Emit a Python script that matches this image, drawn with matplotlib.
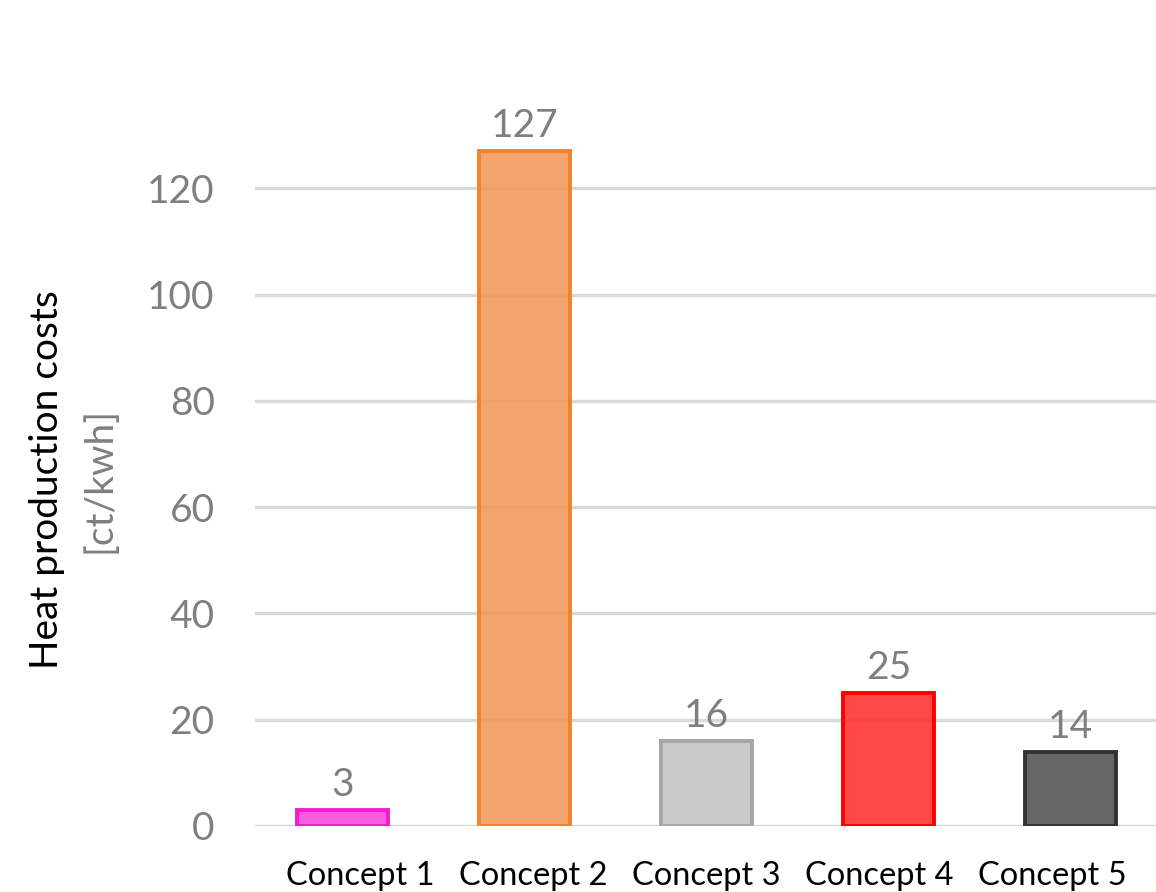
import matplotlib
matplotlib.use("Agg")
import matplotlib.pyplot as plt
from matplotlib.colors import to_rgba
from matplotlib.transforms import ScaledTranslation

categories = ["Concept 1", "Concept 2", "Concept 3", "Concept 4", "Concept 5"]
costs = [3, 127, 16, 25, 14]
edge_colors = ["#F21BD0", "#F4812C", "#A6A6A6", "#FF0000", "#333333"]
fill_colors = ["#F83FD5", "#F39554", "#C2C2C2", "#FF2828", "#4B4B4B"]
y_ticks = [0, 20, 40, 60, 80, 100, 120]

plt.rcParams['font.family'] = ['Lato', 'DejaVu Sans']

fig = plt.figure(figsize=(11.56, 8.92), dpi=100)
ax = fig.add_axes([0.2206, 0.074, 0.7794, 0.834])

x = list(range(len(categories)))
ax.set_axisbelow(True)
ax.yaxis.grid(True, color="#D9D9D9", linewidth=2.4)
bars = ax.bar(x, costs, width=0.5,
              color=[to_rgba(c, 0.85) for c in fill_colors],
              edgecolor=edge_colors, linewidth=2.8, zorder=3)

for xi, v in zip(x, costs):
    ax.annotate(str(v), (xi, v), xytext=(0, 5), textcoords="offset points",
                ha="center", va="bottom", fontsize=28, color="#7F7F7F")

ax.set_xlim(-0.48, 4.47)
ax.set_ylim(0, 140)
ax.set_yticks(y_ticks)
ax.set_xticks(x)
ax.set_xticklabels(categories, fontsize=23.5, color="#000000")
ax.tick_params(axis="y", labelsize=28, labelcolor="#7F7F7F", length=0, pad=29)
ax.tick_params(axis="x", length=0, pad=25)
for s in ax.spines.values():
    s.set_visible(False)

# category labels sit slightly closer together than the bars
n = len(categories)
for i, lbl in enumerate(ax.get_xticklabels()):
    shift = (18 - 36 * i / (n - 1)) / 100
    lbl.set_transform(lbl.get_transform() + ScaledTranslation(shift, 0, fig.dpi_scale_trans))

fig.text(0.041, 0.462, "Heat production costs", rotation=90, ha="center", va="center",
         fontsize=28, color="#000000")
fig.text(0.086, 0.462, "[ct/kwh]", rotation=90, ha="center", va="center",
         fontsize=28, color="#7F7F7F")

fig.savefig("out.png", dpi=100)
